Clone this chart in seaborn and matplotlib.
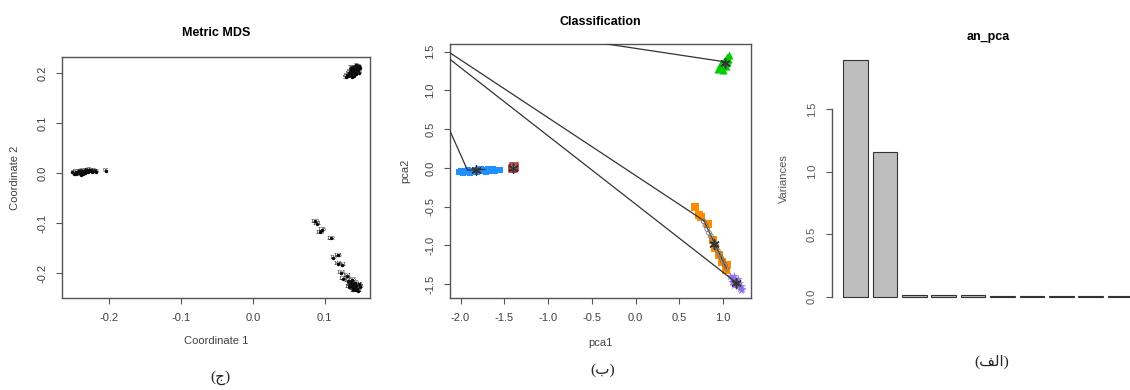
import matplotlib
matplotlib.use("Agg")
import matplotlib.pyplot as plt
import seaborn as sns
import pandas as pd

# ---------------- data: Metric MDS ----------------
mds_a_x = [-0.252, -0.249, -0.247, -0.246, -0.244, -0.243, -0.242, -0.241, -0.240, -0.239,
           -0.238, -0.237, -0.236, -0.235, -0.234, -0.233, -0.232, -0.231, -0.230, -0.229,
           -0.228, -0.226, -0.224, -0.222, -0.220, -0.218, -0.205]
mds_a_y = [0.001, -0.002, 0.002, -0.003, 0.000, 0.003, -0.001, 0.002, -0.004, 0.001,
           0.004, -0.002, 0.000, 0.003, -0.001, 0.005, 0.001, 0.004, 0.002, 0.006,
           0.003, 0.005, 0.002, 0.004, 0.003, 0.002, 0.004]
mds_a_lab = ["8", "40", "50", "18", "1", "28", "29", "41", "5", "38", "36", "24", "27", "44",
             "12", "25", "7", "21", "32", "37", "11", "49", "20", "47", "22", "45", "97"]

mds_b_x = [0.129, 0.131, 0.133, 0.134, 0.135, 0.136, 0.137, 0.138, 0.139, 0.140, 0.141, 0.142,
           0.143, 0.144, 0.145, 0.146, 0.147, 0.148, 0.149, 0.138, 0.141, 0.144, 0.136, 0.140, 0.143]
mds_b_y = [0.191, 0.195, 0.193, 0.199, 0.202, 0.196, 0.205, 0.199, 0.208, 0.201, 0.204, 0.197,
           0.209, 0.203, 0.212, 0.206, 0.213, 0.200, 0.210, 0.192, 0.194, 0.215, 0.210, 0.211, 0.198]
mds_b_lab = ["51", "52", "53", "54", "55", "56", "57", "58", "59", "60", "61", "62", "63",
             "64", "65", "66", "67", "68", "69", "70", "71", "72", "73", "74", "75"]

mds_c_x = [0.087, 0.089, 0.096, 0.093, 0.109, 0.118, 0.112, 0.119, 0.124, 0.122, 0.125,
           0.131, 0.133, 0.135, 0.136, 0.137, 0.138, 0.139, 0.140, 0.141, 0.142, 0.143,
           0.144, 0.145, 0.147, 0.149, 0.134, 0.140, 0.146, 0.138]
mds_c_y = [-0.097, -0.102, -0.114, -0.119, -0.131, -0.165, -0.169, -0.181, -0.183, -0.199, -0.212,
           -0.205, -0.215, -0.222, -0.218, -0.226, -0.221, -0.230, -0.224, -0.228, -0.219, -0.233,
           -0.225, -0.231, -0.222, -0.227, -0.228, -0.234, -0.236, -0.213]
mds_c_lab = ["120", "141", "125", "139", "122", "113", "117", "146", "151", "134", "128",
             "101", "102", "103", "104", "105", "106", "107", "108", "109", "110", "111",
             "112", "114", "115", "116", "118", "119", "121", "123"]

# ---------------- data: Classification ----------------
blue_x = [-2.02, -1.99, -1.97, -1.95, -1.93, -1.91, -1.89, -1.87, -1.85, -1.83, -1.81, -1.79,
          -1.77, -1.75, -1.73, -1.71, -1.69, -1.67, -1.65, -1.63, -1.61, -1.58, -1.55]
blue_y = [-0.05, -0.04, -0.06, -0.04, -0.05, -0.03, -0.06, -0.04, -0.05, -0.03, -0.05, -0.04,
          -0.02, -0.04, -0.03, -0.05, -0.02, -0.04, -0.03, -0.02, -0.04, -0.03, -0.03]
red_x = [-1.39, -1.40]
red_y = [0.01, -0.01]
green_x = [0.94, 0.96, 0.97, 0.98, 0.99, 1.00, 1.01, 1.02, 1.03, 1.04, 1.05, 1.06, 1.07, 1.00, 1.03, 1.05]
green_y = [1.28, 1.30, 1.33, 1.29, 1.35, 1.32, 1.38, 1.35, 1.40, 1.37, 1.43, 1.41, 1.46, 1.27, 1.31, 1.39]
orange_x = [0.68, 0.72, 0.75, 0.83, 0.89, 0.91, 0.95, 0.99, 1.05, 1.03]
orange_y = [-0.51, -0.61, -0.64, -0.72, -0.93, -1.03, -1.13, -1.21, -1.26, -1.32]
grey_x = [0.78, 0.80, 0.82, 0.84, 0.86, 0.88, 0.90, 0.92, 0.94, 0.96, 0.98, 1.00, 1.02, 1.04]
grey_y = [-0.69, -0.74, -0.79, -0.84, -0.88, -0.93, -0.97, -1.02, -1.07, -1.12, -1.16, -1.21, -1.25, -1.30]
purple_x = [1.08, 1.10, 1.11, 1.12, 1.13, 1.14, 1.15, 1.16, 1.17, 1.18, 1.19, 1.20, 1.21, 1.13, 1.17, 1.10, 1.22]
purple_y = [-1.39, -1.42, -1.45, -1.40, -1.47, -1.44, -1.50, -1.46, -1.52, -1.49, -1.55, -1.53, -1.58,
            -1.51, -1.43, -1.47, -1.56]
center_x = [-1.82, 1.02, 0.90, 1.15, -1.40]
center_y = [-0.03, 1.36, -0.98, -1.48, 0.00]
line1_x, line1_y = [-2.30, 0.78], [1.62, -0.68]
line2_x, line2_y = [-2.30, 1.15], [1.56, -1.48]
line3_x, line3_y = [-0.33, 1.02], [1.60, 1.37]
line4_x, line4_y = [-2.20, -1.92, -1.72], [0.68, -0.03, -0.02]
line5_x, line5_y = [0.78, 1.04], [-0.68, -1.30]

# ---------------- data: an_pca ----------------
components = ["Comp.1", "Comp.2", "Comp.3", "Comp.4", "Comp.5",
              "Comp.6", "Comp.7", "Comp.8", "Comp.9", "Comp.10"]
variances = [1.89, 1.157, 0.016, 0.012, 0.012, 0.009, 0.009, 0.008, 0.008, 0.007]

# ---------------- style ----------------
sns.set_style("white")
plt.rcParams['font.family'] = ['Liberation Sans', 'DejaVu Sans']
plt.rcParams['axes.unicode_minus'] = False

TXT = '#404040'
FRAME = '#555555'

fig = plt.figure(figsize=(11.3, 3.9), dpi=100)
ax1 = fig.add_axes([62 / 1130, 1 - 298 / 390, 308 / 1130, 241 / 390])
ax2 = fig.add_axes([450 / 1130, 1 - 298 / 390, 301 / 1130, 254 / 390])
ax3 = fig.add_axes([831.7 / 1130, 1 - 306.1 / 390, 312.2 / 1130, 255.2 / 390])


def r_axes(ax, col=TXT):
    for s in ax.spines.values():
        s.set_visible(True)
        s.set_color(FRAME)
        s.set_linewidth(1.0)
    ax.tick_params(axis='both', which='major', direction='out', length=4, width=0.8,
                   color=FRAME, labelsize=8, labelcolor=col, pad=6.5,
                   bottom=True, left=True, top=False, right=False)
    ax.tick_params(axis='y', labelrotation=90)
    plt.setp(ax.get_yticklabels(), va='center')


# ---------------- panel 1: Metric MDS ----------------
mds = pd.DataFrame({
    'x': mds_a_x + mds_b_x + mds_c_x,
    'y': mds_a_y + mds_b_y + mds_c_y,
    'lab': mds_a_lab + mds_b_lab + mds_c_lab,
})
sns.scatterplot(data=mds, x='x', y='y', color='black', s=6, linewidth=0, ax=ax1, legend=False)
for xx, yy, ll in zip(mds['x'], mds['y'], mds['lab']):
    ax1.text(xx, yy, ll, fontsize=3.8, ha='center', va='center', color='#111111')
ax1.set_xlim(-0.266, 0.163)
ax1.set_ylim(-0.25, 0.232)
ax1.set_xticks([-0.2, -0.1, 0.0, 0.1])
ax1.set_xticklabels(['-0.2', '-0.1', '0.0', '0.1'])
ax1.set_yticks([-0.2, -0.1, 0.0, 0.1, 0.2])
ax1.set_yticklabels(['-0.2', '-0.1', '0.0', '0.1', '0.2'])
r_axes(ax1)
ax1.set_xlabel('Coordinate 1', fontsize=8, color=TXT)
ax1.set_ylabel('Coordinate 2', fontsize=8, color=TXT)
ax1.xaxis.set_label_coords(0.5, -0.158)
ax1.yaxis.set_label_coords(-0.136, 0.5)
ax1.set_title('Metric MDS', fontsize=9, fontweight='bold', pad=15, color='black')

# ---------------- panel 2: Classification ----------------
for lx, ly in [(line1_x, line1_y), (line2_x, line2_y), (line3_x, line3_y),
               (line4_x, line4_y), (line5_x, line5_y)]:
    ax2.plot(lx, ly, color='#333333', lw=0.9, zorder=3)
sns.scatterplot(x=blue_x, y=blue_y, marker='s', s=22, color='#1E90FF', linewidth=0, ax=ax2, zorder=2)
sns.scatterplot(x=green_x, y=green_y, marker='^', s=34, color='#00CD00', linewidth=0, ax=ax2, zorder=2)
sns.scatterplot(x=orange_x, y=orange_y, marker='s', s=32, color='#FF8C00', linewidth=0, ax=ax2, zorder=2)
sns.scatterplot(x=purple_x, y=purple_y, marker='*', s=44, color='#8A6FE0', linewidth=0, alpha=0.85,
                ax=ax2, zorder=2)
sns.scatterplot(x=grey_x, y=grey_y, marker='o', s=12, color='#777777', facecolor='none',
                edgecolor='#777777', linewidth=0.6, ax=ax2, zorder=4)
sns.scatterplot(x=red_x, y=red_y, marker='s', s=30, color='#B22222', facecolor='none',
                edgecolor='#B22222', linewidth=1.1, ax=ax2, zorder=4)
sns.scatterplot(x=center_x, y=center_y, marker=(6, 2, 0), s=45, color='#333333', linewidth=1.1,
                ax=ax2, zorder=5)
ax2.set_xlim(-2.12, 1.32)
ax2.set_ylim(-1.68, 1.60)
ax2.set_xticks([-2.0, -1.5, -1.0, -0.5, 0.0, 0.5, 1.0])
ax2.set_xticklabels(['-2.0', '-1.5', '-1.0', '-0.5', '0.0', '0.5', '1.0'])
ax2.set_yticks([-1.5, -1.0, -0.5, 0.0, 0.5, 1.0, 1.5])
ax2.set_yticklabels(['-1.5', '-1.0', '-0.5', '0.0', '0.5', '1.0', '1.5'])
r_axes(ax2)
ax2.set_xlabel('pca1', fontsize=8, color=TXT)
ax2.set_ylabel('pca2', fontsize=8, color=TXT)
ax2.xaxis.set_label_coords(0.5, -0.157)
ax2.yaxis.set_label_coords(-0.131, 0.5)
ax2.set_title('Classification', fontsize=9, fontweight='bold', pad=14, color='black')

# ---------------- panel 3: an_pca ----------------
pca = pd.DataFrame({'comp': components, 'var': variances})
sns.barplot(data=pca, x='comp', y='var', color='#BEBEBE', saturation=1, width=0.833,
            edgecolor='#333333', linewidth=0.8, ax=ax3)
ax3.set_xlim(-0.81, 9.81)
ax3.set_ylim(-0.0756, 1.966)
ax3.set_xticks([])
ax3.set_yticks([0.0, 0.5, 1.0, 1.5])
ax3.set_yticklabels(['0.0', '0.5', '1.0', '1.5'])
r_axes(ax3, col='#555555')
for side in ['top', 'right', 'bottom']:
    ax3.spines[side].set_visible(False)
ax3.spines['left'].set_bounds(0.0, 1.5)
ax3.set_xlabel('')
ax3.set_ylabel('Variances', fontsize=8, color='#555555')
ax3.yaxis.set_label_coords(-0.138, 0.5)
ax3.set_title('an_pca', fontsize=9, fontweight='bold', pad=8, color='black')

# ---------------- captions ----------------
cap_fam = ['Liberation Serif', 'DejaVu Sans']
fig.text(220 / 1130, 1 - 378 / 390, '(ج)', fontsize=11, family=cap_fam, ha='center', va='center')
fig.text(602.7 / 1130, 1 - 370 / 390, '(ب)', fontsize=11, family=cap_fam, ha='center', va='center')
fig.text(991.7 / 1130, 1 - 361.7 / 390, '(\ufed2\ufedf\u0627)', fontsize=11, family=cap_fam,
         ha='center', va='center')

fig.savefig('out.png', dpi=100)
